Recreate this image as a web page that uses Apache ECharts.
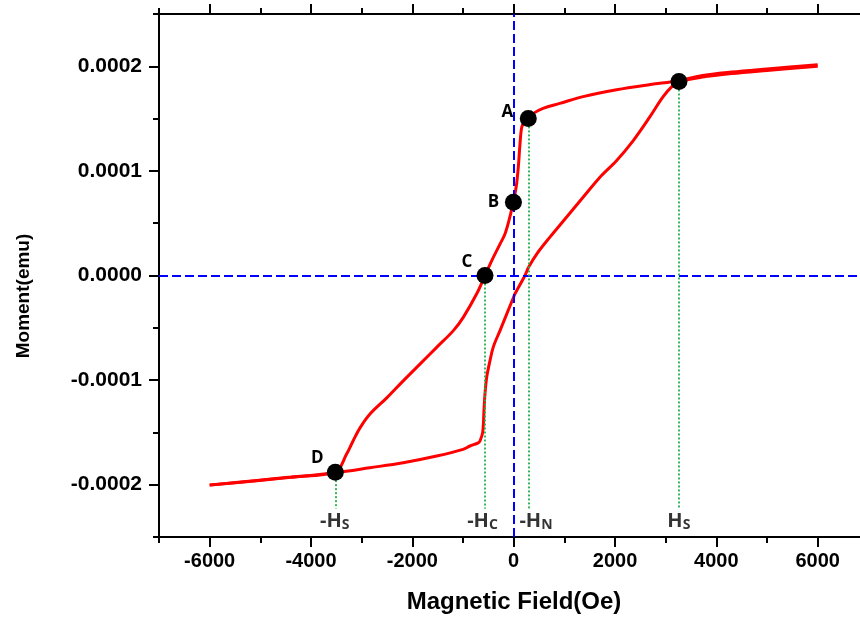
<!DOCTYPE html>
<html>
<head>
<meta charset="utf-8">
<script src="https://cdn.jsdelivr.net/npm/echarts@6/dist/echarts.min.js"></script>
<style>
  html, body { margin: 0; padding: 0; background: #fff; }
  #chart { width: 860px; height: 617px; }
</style>
</head>
<body>
<div id="chart"></div>
<script>
// descending branch (field going from +6000 to -6000)
const upperField = [6000, 5000, 4300, 3700, 3260, 2700, 2030, 1370, 910, 580, 390, 290, 215, 160, 125, 92, 59, 25, -8,
  -75, -170, -270, -400, -566, -730, -995, -1190, -1520, -1850, -2180, -2500, -2840, -3030, -3170, -3300, -3520, -4400, -5070, -6000];
const upperMoment = [2.015e-4, 1.975e-4, 1.945e-4, 1.91e-4, 1.862e-4, 1.825e-4, 1.775e-4, 1.71e-4, 1.645e-4, 1.598e-4, 1.55e-4, 1.502e-4, 1.47e-4, 1.42e-4, 1.26e-4, 1.04e-4, 0.88e-4, 0.78e-4, 0.70e-4,
  0.56e-4, 0.40e-4, 0.30e-4, 0.175e-4, 0, -0.175e-4, -0.40e-4, -0.527e-4, -0.687e-4, -0.847e-4, -1.007e-4, -1.167e-4, -1.326e-4, -1.454e-4, -1.582e-4, -1.71e-4, -1.878e-4, -1.927e-4, -1.96e-4, -2.004e-4];

// ascending branch (field going from -6000 to +6000)
const lowerField = [-6000, -5070, -4400, -3520, -2840, -2180, -1520, -1000, -862, -700, -665, -612, -586, -566, -533, -468, -400, -270, -130, 0, 26, 223, 290, 454,
  716, 1046, 1374, 1703, 2033, 2360, 2690, 2950, 3150, 3260, 3700, 4300, 5000, 6000];
const lowerMoment = [-2.004e-4, -1.962e-4, -1.93e-4, -1.885e-4, -1.838e-4, -1.79e-4, -1.726e-4, -1.662e-4, -1.63e-4, -1.6e-4, -1.582e-4, -1.50e-4, -1.29e-4, -1.13e-4, -0.975e-4, -0.815e-4, -0.68e-4, -0.527e-4, -0.36e-4, -0.205e-4, -0.175e-4, 0, 0.075e-4, 0.205e-4,
  0.367e-4, 0.559e-4, 0.75e-4, 0.94e-4, 1.10e-4, 1.29e-4, 1.518e-4, 1.71e-4, 1.82e-4, 1.855e-4, 1.895e-4, 1.93e-4, 1.96e-4, 2.0e-4];

// marked points
const markerName = ['A', 'B', 'C', 'D', ''];
const markerField = [288, -5, -566, -3520, 3262];
const markerMoment = [1.502e-4, 0.70e-4, 0, -1.88e-4, 1.855e-4];

// green guides down to the field labels
const guideField = [-3520, -566, 288, 3262];
const guideTop = [-1.88e-4, 0, 1.502e-4, 1.855e-4];
const guideBottom = -2.23e-4;

// field labels under the guides
const fieldLabelMain = ['-H', '-H', '-H', 'H'];
const fieldLabelSub = ['S', 'C', 'N', 'S'];
const fieldLabelX = [-3530, -615, 440, 3260];
const fieldLabelY = -2.35e-4;

// axis ticks
const xMajorTicks = [-6000, -4000, -2000, 0, 2000, 4000, 6000];
const xMinorTicks = [-7000, -5000, -3000, -1000, 1000, 3000, 5000];
const yMajorTicks = [-0.0002, -0.0001, 0, 0.0001, 0.0002];
const yMinorTicks = [-0.00025, -0.00015, -0.00005, 0.00005, 0.00015, 0.00025];

const chart = echarts.init(document.getElementById('chart'));

const labelOffsets = { A: [-21, -6], B: [-20, 0], C: [-18, -13], D: [-18, -14] };
const lineColor = '#000';
const labelFont = 'Liberation Sans';

// the plot is cut at the right edge of the picture, so the x range stops short of 7000
const xBase = {
  type: 'value', min: -7000, max: 6835,
  splitLine: { show: false },
  axisLine: { show: false, onZero: false }
};
const yBase = {
  type: 'value', min: -0.00025, max: 0.00025,
  splitLine: { show: false },
  axisLine: { show: false, onZero: false }
};

const option = {
  animation: false,
  grid: { left: 159, right: 0, top: 14, bottom: 80 },
  xAxis: [
    Object.assign({}, xBase, {
      position: 'bottom',
      axisLine: { show: true, onZero: false, lineStyle: { color: lineColor, width: 2 } },
      axisTick: { customValues: xMajorTicks, length: 10, lineStyle: { color: lineColor, width: 2 } },
      axisLabel: {
        customValues: xMajorTicks, margin: 14, color: '#000', fontSize: 20, fontWeight: 'bold', fontFamily: labelFont,
        formatter: v => String(v)
      }
    }),
    Object.assign({}, xBase, {
      position: 'bottom',
      axisTick: { customValues: xMinorTicks, length: 6, lineStyle: { color: lineColor, width: 2 } },
      axisLabel: { show: false }
    }),
    Object.assign({}, xBase, {
      position: 'top',
      axisLine: { show: true, onZero: false, lineStyle: { color: lineColor, width: 2 } },
      axisTick: { customValues: xMajorTicks, length: 10, lineStyle: { color: lineColor, width: 2 } },
      axisLabel: { show: false }
    }),
    Object.assign({}, xBase, {
      position: 'top',
      axisTick: { customValues: xMinorTicks, length: 6, lineStyle: { color: lineColor, width: 2 } },
      axisLabel: { show: false }
    })
  ],
  yAxis: [
    Object.assign({}, yBase, {
      position: 'left',
      axisLine: { show: true, onZero: false, lineStyle: { color: lineColor, width: 2 } },
      axisTick: { customValues: yMajorTicks, length: 10, lineStyle: { color: lineColor, width: 2 } },
      axisLabel: {
        customValues: yMajorTicks, margin: 17, color: '#000', fontSize: 21, fontWeight: 'bold', fontFamily: labelFont,
        formatter: v => v.toFixed(4)
      }
    }),
    Object.assign({}, yBase, {
      position: 'left',
      axisTick: { customValues: yMinorTicks, length: 6, lineStyle: { color: lineColor, width: 2 } },
      axisLabel: { show: false }
    })
  ],
  graphic: [
    {
      type: 'text', x: 514, y: 602,
      style: { text: 'Magnetic Field(Oe)', font: 'bold 24px "Liberation Sans"', fill: '#000', textAlign: 'center', textVerticalAlign: 'middle' }
    },
    {
      type: 'text', x: 24, y: 296, rotation: Math.PI / 2,
      style: { text: 'Moment(emu)', font: 'bold 19px "Liberation Sans"', fill: '#000', textAlign: 'center', textVerticalAlign: 'middle' }
    }
  ],
  series: [
    {
      // reference lines
      type: 'line', data: [], z: 1, silent: true,
      markLine: {
        silent: true, symbol: ['none', 'none'], animation: false,
        label: { show: false },
        data: [
          { xAxis: 0, lineStyle: { color: '#0000ff', type: [9, 4], width: 2 } },
          { yAxis: 0, lineStyle: { color: '#0000ff', type: [9, 4], width: 2 } }
        ].concat(guideField.map((f, i) => [
          { coord: [f, guideTop[i]], lineStyle: { color: '#1fb14a', type: [2, 2], width: 1.8 } },
          { coord: [f, guideBottom] }
        ]))
      }
    },
    {
      type: 'line', z: 2, showSymbol: false, smooth: 0.35,
      lineStyle: { color: '#ff0000', width: 3 },
      data: upperField.map((f, i) => [f, upperMoment[i]])
    },
    {
      type: 'line', z: 2, showSymbol: false, smooth: 0.35,
      lineStyle: { color: '#ff0000', width: 3 },
      data: lowerField.map((f, i) => [f, lowerMoment[i]])
    },
    {
      type: 'scatter', z: 5, symbolSize: 17,
      itemStyle: { color: '#000', opacity: 1, borderWidth: 0 },
      emphasis: { disabled: true },
      data: markerField.map((f, i) => ({
        value: [f, markerMoment[i]],
        label: {
          show: markerName[i] !== '', formatter: markerName[i],
          position: 'inside', offset: labelOffsets[markerName[i]] || [0, 0],
          color: '#000', fontSize: 17, fontWeight: 'bold', fontFamily: 'Open Sans'
        }
      }))
    },
    {
      type: 'scatter', z: 3, symbolSize: 0, silent: true,
      data: fieldLabelX.map((f, i) => ({
        value: [f, fieldLabelY],
        label: {
          show: true, position: 'inside',
          formatter: '{a|' + fieldLabelMain[i] + '}{b|' + fieldLabelSub[i] + '}',
          rich: {
            a: { fontSize: 20, fontWeight: 'bold', fontFamily: 'Open Sans', color: '#000', lineHeight: 22 },
            b: { fontSize: 14, fontWeight: 'bold', fontFamily: 'Open Sans', color: '#000', lineHeight: 17, verticalAlign: 'bottom' }
          }
        }
      }))
    }
  ]
};

chart.setOption(option);
</script>
</body>
</html>
